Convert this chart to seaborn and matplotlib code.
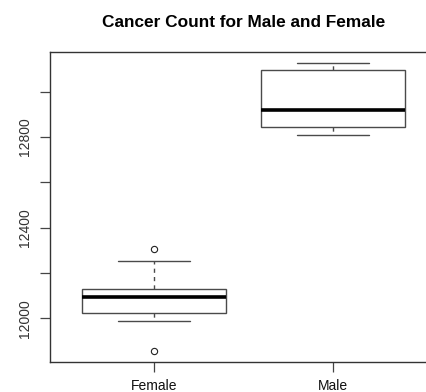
import matplotlib
matplotlib.use("Agg")
import matplotlib.pyplot as plt
import seaborn as sns
import pandas as pd

categories = ["Female", "Male"]
female_counts = [11855, 11990, 12005, 12025, 12050, 12080, 12094, 12105,
                 12120, 12131, 12180, 12254, 12306]
male_counts = [12809, 12825, 12843, 12880, 12917, 13000, 13095, 13110, 13125]
y_ticks = [12000, 12200, 12400, 12600, 12800, 13000]
y_tick_labels = ["12000", "", "12400", "", "12800", ""]
title = "Cancer Count for Male and Female"

df = pd.DataFrame({
    "sex": ["Female"] * len(female_counts) + ["Male"] * len(male_counts),
    "count": female_counts + male_counts,
})

sns.set_theme(style="white")
plt.rcParams["font.family"] = ["Liberation Sans", "DejaVu Sans"]

W, H = 427, 392
fig = plt.figure(figsize=(W / 100, H / 100), dpi=100)
ax = fig.add_axes([50 / W, (H - 362) / H, 387 / W, 310 / H])

edge = "#4a4a4a"
sns.boxplot(
    data=df, x="sex", y="count", order=categories, ax=ax,
    width=0.8, color="white", linecolor=edge, linewidth=1.0,
    boxprops=dict(facecolor="white", edgecolor=edge, linewidth=1.0),
    whiskerprops=dict(color=edge, linestyle=(0, (3, 3)), linewidth=1.0),
    capprops=dict(color=edge, linewidth=1.0),
    medianprops=dict(color="black", linewidth=2.6),
    flierprops=dict(marker="o", markersize=4.5, markerfacecolor="none",
                    markeredgecolor="#222222", markeredgewidth=0.8),
)

ax.set_xlim(-0.58, 1.58)
ax.set_ylim(11807, 13175)
ax.set_yticks(y_ticks)
ax.set_yticklabels(y_tick_labels, rotation=90, va="center")
ax.set_xlabel("")
ax.set_ylabel("")
ax.grid(False)
for s in ax.spines.values():
    s.set_visible(True)
    s.set_color("#333333")
    s.set_linewidth(1.0)
ax.tick_params(axis="y", length=7, width=0.9, color="#444444", pad=6,
               labelsize=10, labelcolor="#333333", left=True)
ax.tick_params(axis="x", length=7, width=0.9, color="#444444", pad=5,
               labelsize=10, labelcolor="#111111", bottom=True)
ax.set_title(title, fontsize=12.4, fontweight="bold", pad=18, color="black")

fig.savefig("out.png", dpi=100)
